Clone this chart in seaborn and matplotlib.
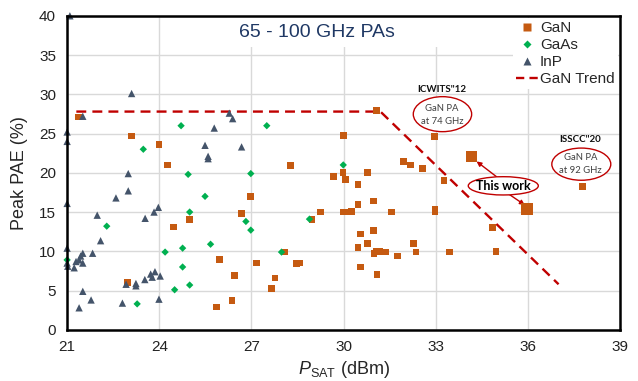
import matplotlib
matplotlib.use("Agg")
import matplotlib.pyplot as plt
import seaborn as sns
import pandas as pd
from matplotlib.lines import Line2D
from matplotlib.patches import Ellipse, Rectangle

# ---------------- data ----------------
gan_x = [21.36, 23.10, 23.99, 24.26, 26.98, 26.67, 24.98, 24.47, 22.97, 25.97,
         27.17, 26.46, 25.86, 26.37, 31.07, 29.99, 28.28, 31.96, 32.17, 32.57,
         32.97, 29.98, 29.68, 30.77, 30.07, 30.47, 30.98, 30.47, 29.26, 29.99,
         30.12, 30.26, 31.56, 32.98, 32.98, 33.27, 28.97, 30.56, 30.98, 30.77,
         30.47, 32.27, 28.07, 30.99, 31.07, 31.18, 31.38, 31.76, 32.36, 28.47,
         28.57, 30.56, 31.09, 27.77, 27.66, 33.45, 34.85, 34.96, 37.77]
gan_y = [27.1, 24.7, 23.6, 21.0, 17.0, 14.8, 14.1, 13.1, 6.0, 9.0,
         8.5, 6.9, 2.9, 3.7, 27.9, 24.8, 20.9, 21.4, 21.0, 20.5,
         24.6, 20.0, 19.5, 20.0, 19.1, 18.5, 16.4, 16.0, 15.0, 15.0,
         15.0, 15.1, 15.0, 15.3, 15.0, 19.0, 14.0, 12.2, 12.7, 11.0,
         10.5, 11.0, 9.9, 9.7, 9.95, 9.95, 9.9, 9.4, 9.9, 8.4,
         8.5, 8.0, 7.0, 6.6, 5.3, 9.9, 13.0, 9.95, 18.3]

gaas_x = [24.71, 23.48, 27.50, 24.94, 26.98, 25.49, 24.99, 26.82, 22.29, 26.98,
          24.19, 24.76, 25.67, 21.00, 24.76, 24.99, 24.50, 23.28, 29.99, 28.89,
          27.98]
gaas_y = [26.0, 23.0, 26.0, 19.8, 19.9, 17.0, 15.0, 13.8, 13.2, 12.7,
          9.9, 10.4, 10.9, 8.9, 8.0, 5.7, 5.1, 3.3, 21.0, 14.1,
          9.9]

inp_x = [21.09, 23.10, 21.51, 21.00, 21.00, 25.79, 26.28, 26.39, 25.49, 25.59,
         25.59, 26.68, 22.99, 22.99, 22.59, 21.00, 23.97, 23.83, 21.98, 23.54,
         22.09, 21.00, 21.83, 21.51, 21.44, 21.29, 21.51, 21.00, 21.02, 21.23,
         21.39, 22.92, 23.24, 23.24, 23.53, 23.72, 23.77, 23.86, 24.03, 21.51,
         21.78, 21.39, 22.80, 23.99]
inp_y = [40.0, 30.1, 27.2, 25.2, 24.0, 25.7, 27.6, 26.9, 23.5, 22.1,
         21.8, 23.3, 19.9, 17.7, 16.8, 16.1, 15.6, 15.0, 14.6, 14.2,
         11.35, 10.4, 9.75, 9.75, 9.4, 8.7, 8.5, 8.5, 8.1, 7.9,
         8.9, 5.8, 5.9, 5.6, 6.4, 7.1, 6.7, 7.4, 6.85, 4.9,
         3.8, 2.8, 3.4, 3.9]

this_work_x = [34.17, 35.98]
this_work_y = [22.1, 15.35]

trend_x = [21.3, 31.2, 37.0]
trend_y = [27.8, 27.8, 5.8]

x_ticks = [21, 24, 27, 30, 33, 36, 39]
y_ticks = [0, 5, 10, 15, 20, 25, 30, 35, 40]

series_names = ["GaN", "GaAs", "InP"]
colors = {"GaN": "#C55A11", "GaAs": "#00B050", "InP": "#44546A"}
markers = {"GaN": "s", "GaAs": "D", "InP": "^"}
sizes = {"GaN": 24, "GaAs": 14, "InP": 28}
trend_color = "#C00000"

df = pd.concat([
    pd.DataFrame({"x": gan_x, "y": gan_y, "tech": "GaN"}),
    pd.DataFrame({"x": gaas_x, "y": gaas_y, "tech": "GaAs"}),
    pd.DataFrame({"x": inp_x, "y": inp_y, "tech": "InP"}),
], ignore_index=True)
df_tw = pd.DataFrame({"x": this_work_x, "y": this_work_y})
df_tr = pd.DataFrame({"x": trend_x, "y": trend_y})

# ---------------- style ----------------
sns.set_theme(style="white")
plt.rcParams["font.family"] = ["Liberation Sans", "DejaVu Sans"]
plt.rcParams["mathtext.fontset"] = "custom"
plt.rcParams["mathtext.rm"] = "Liberation Sans"
plt.rcParams["mathtext.it"] = "Liberation Sans:italic"

fig = plt.figure(figsize=(6.38, 3.81), dpi=100)
ax = fig.add_axes([0.1052, 0.1344, 0.8666, 0.8241])

ax.set_xlim(21, 39)
ax.set_ylim(0, 40)
ax.set_xticks(x_ticks)
ax.set_yticks(y_ticks)
ax.set_axisbelow(True)
ax.grid(True, color="#d9d9d9", lw=1.0)
for s in ax.spines.values():
    s.set_color("black")
    s.set_linewidth(1.8)
    s.set_zorder(6)
ax.tick_params(axis="both", length=0, labelsize=11, colors="#222222")
ax.tick_params(axis="y", pad=8)
ax.tick_params(axis="x", pad=7)

# white box behind title
ax.add_patch(Rectangle((0.29, 0.90), 0.40, 0.10, transform=ax.transAxes,
                       facecolor="white", edgecolor="none", zorder=1))

# trend line
sns.lineplot(data=df_tr, x="x", y="y", sort=False, estimator=None, ax=ax,
             color=trend_color, lw=1.7, dashes=False, zorder=2)
ax.lines[-1].set_dashes((4.2, 2.6))

for name in series_names:
    sub = df[df["tech"] == name]
    sns.scatterplot(data=sub, x="x", y="y", ax=ax, color=colors[name],
                    marker=markers[name], s=sizes[name], edgecolor="none",
                    linewidth=0, zorder=3, clip_on=False, legend=False)

sns.scatterplot(data=df_tw, x="x", y="y", ax=ax, color=colors["GaN"],
                marker="s", s=70, edgecolor="none", linewidth=0, zorder=5,
                legend=False)

ax.set_xlabel(r"$\it{P}_{\rm SAT}$ (dBm)", fontsize=13, labelpad=4)
ax.set_ylabel("Peak PAE (%)", fontsize=13, labelpad=8)

ax.text(0.452, 0.948, "65 - 100 GHz PAs", transform=ax.transAxes,
        ha="center", va="center", fontsize=14, color="#1F3864", zorder=2)

# legend
handles = [
    Line2D([], [], ls="none", marker="s", color=colors["GaN"], ms=5.5, mec="none"),
    Line2D([], [], ls="none", marker="D", color=colors["GaAs"], ms=4, mec="none"),
    Line2D([], [], ls="none", marker="^", color=colors["InP"], ms=5.5, mec="none"),
    Line2D([], [], color=trend_color, lw=1.7, dashes=(3.5, 2.2)),
]
leg = ax.legend(handles, ["GaN", "GaAs", "InP", "GaN Trend"], loc="upper right",
                bbox_to_anchor=(1.0, 1.0), fontsize=11, frameon=True,
                fancybox=False, framealpha=1, edgecolor="none",
                handlelength=1.4, handletextpad=0.15, labelspacing=0.2,
                borderpad=0.2, borderaxespad=0.15)
leg.set_zorder(7)

# annotations
ann_font = ["Lato", "DejaVu Sans"]
ell_kw = dict(facecolor="white", edgecolor=trend_color, lw=1.0, zorder=4)
ax.add_patch(Ellipse((33.22, 27.47), 1.9, 4.46, **ell_kw))
ax.text(33.2, 27.35, "GaN PA\nat 74 GHz", ha="center", va="center",
        fontsize=6.8, color="#404040", family=ann_font, linespacing=1.5, zorder=5)
ax.text(33.2, 30.55, "ICWITS\"12", ha="center", va="center", fontsize=7,
        fontweight="bold", color="#111111", family=ann_font, zorder=5)

ax.add_patch(Ellipse((37.74, 21.1), 1.92, 4.1, **ell_kw))
ax.text(37.72, 21.1, "GaN PA\nat 92 GHz", ha="center", va="center",
        fontsize=6.8, color="#404040", family=ann_font, linespacing=1.5, zorder=5)
ax.text(37.69, 24.2, "ISSCC\"20", ha="center", va="center", fontsize=7,
        fontweight="bold", color="#111111", family=ann_font, zorder=5)

ax.annotate("", xy=(34.33, 21.45), xytext=(34.98, 19.5),
            arrowprops=dict(arrowstyle="-|>", color=trend_color, lw=1.0,
                            mutation_scale=7, shrinkA=0, shrinkB=0), zorder=4)
ax.annotate("", xy=(35.9, 15.9), xytext=(35.3, 17.5),
            arrowprops=dict(arrowstyle="-|>", color=trend_color, lw=1.0,
                            mutation_scale=7, shrinkA=0, shrinkB=0), zorder=4)
ax.add_patch(Ellipse((35.2, 18.34), 2.28, 2.33, **ell_kw))
ax.text(35.2, 18.3, "This work", ha="center", va="center", fontsize=9,
        fontweight="bold", color="black", family=ann_font, zorder=5)

fig.savefig("out.png", dpi=100)
